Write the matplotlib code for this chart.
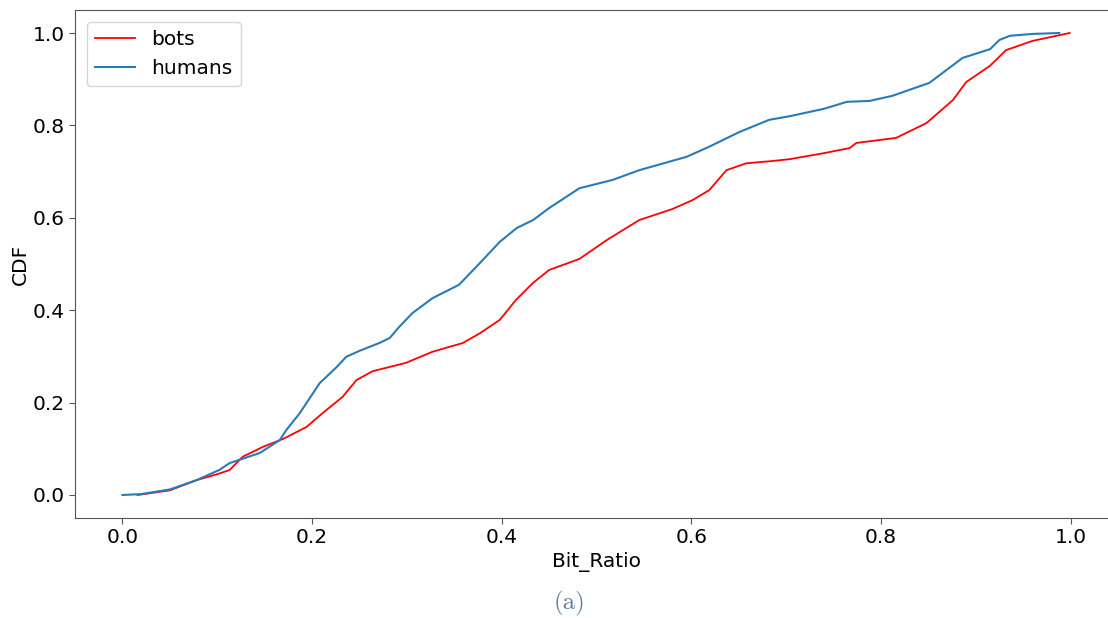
import matplotlib
matplotlib.use("Agg")
import matplotlib.pyplot as plt

# humans (blue) CDF points
humans_x = [0.0, 0.02, 0.05, 0.078, 0.102, 0.113, 0.145, 0.166, 0.173, 0.187, 0.208, 0.226,
            0.236, 0.25, 0.271, 0.282, 0.292, 0.306, 0.327, 0.355, 0.377, 0.398, 0.416,
            0.433, 0.45, 0.482, 0.517, 0.545, 0.595, 0.619, 0.651, 0.682, 0.704, 0.74,
            0.764, 0.788, 0.812, 0.851, 0.886, 0.915, 0.925, 0.936, 0.96, 0.988]
humans_y = [0.0, 0.002, 0.012, 0.032, 0.054, 0.069, 0.091, 0.119, 0.141, 0.177, 0.242, 0.277,
            0.299, 0.312, 0.329, 0.34, 0.364, 0.394, 0.426, 0.455, 0.502, 0.548, 0.578,
            0.595, 0.621, 0.664, 0.682, 0.703, 0.732, 0.754, 0.786, 0.812, 0.82, 0.836,
            0.851, 0.853, 0.864, 0.892, 0.946, 0.965, 0.985, 0.994, 0.998, 1.0]

# bots (red) CDF points
bots_x = [0.016, 0.05, 0.078, 0.10, 0.113, 0.127, 0.148, 0.169, 0.194, 0.211, 0.232, 0.247,
          0.264, 0.299, 0.327, 0.359, 0.377, 0.398, 0.415, 0.433, 0.45, 0.482, 0.511,
          0.545, 0.58, 0.601, 0.619, 0.637, 0.658, 0.686, 0.704, 0.74, 0.767, 0.774,
          0.816, 0.848, 0.876, 0.89, 0.915, 0.932, 0.96, 0.999]
bots_y = [0.0, 0.01, 0.032, 0.045, 0.054, 0.083, 0.104, 0.121, 0.147, 0.177, 0.212, 0.249,
          0.268, 0.286, 0.31, 0.329, 0.35, 0.379, 0.422, 0.459, 0.487, 0.511, 0.552,
          0.595, 0.619, 0.638, 0.66, 0.703, 0.718, 0.723, 0.727, 0.74, 0.751, 0.762,
          0.773, 0.805, 0.855, 0.894, 0.929, 0.963, 0.983, 1.0]

W, H = 1108, 618
fig = plt.figure(figsize=(W / 100, H / 100), dpi=100)
ax = fig.add_axes([75 / W, 1 - 518 / H, (1118 - 75) / W, (518 - 10) / H])

ax.plot(bots_x, bots_y, color="red", lw=1.3, label="bots")
ax.plot(humans_x, humans_y, color="#2a7ab8", lw=1.5, label="humans")

ax.set_xlim(-0.05, 1.05)
ax.set_ylim(-0.0498, 1.0498)
ax.set_xticks([0.0, 0.2, 0.4, 0.6, 0.8, 1.0])
ax.set_yticks([0.0, 0.2, 0.4, 0.6, 0.8, 1.0])
ax.tick_params(labelsize=14.5, length=4, color="#555555")
for s in ax.spines.values():
    s.set_color("#555555")
ax.set_xlabel("Bit_Ratio", fontsize=14.5, labelpad=3)
ax.set_ylabel("CDF", fontsize=14.5, labelpad=2)
ax.legend(loc="upper left", fontsize=14.5, handlelength=2.0, framealpha=0.8,
          borderaxespad=0.6)

fig.text(570 / W, 1 - 603 / H, "(a)", family="cmr10", fontsize=18,
         color="#5a7fa0", ha="center", va="center")

fig.savefig("out.png", dpi=100)
